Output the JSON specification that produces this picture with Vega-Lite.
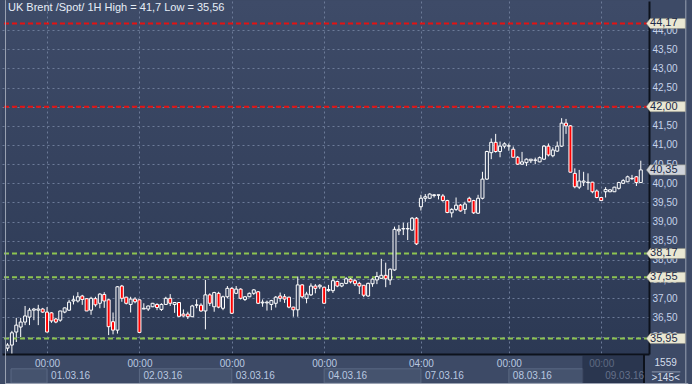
{
  "$schema": "https://vega.github.io/schema/vega-lite/v6.json",
  "width": 647,
  "height": 353,
  "autosize": {"type": "none"},
  "padding": {"left": 2, "top": 1, "right": 43, "bottom": 30},
  "background": "#3d4a66",
  "config": {
    "font": "Liberation Sans",
    "view": {"stroke": null, "fill": {"gradient": "linear", "x1": 0, "y1": 0, "x2": 0, "y2": 1, "stops": [{"offset": 0, "color": "#3e4b68"}, {"offset": 1, "color": "#2c3954"}]}}
  },
  "resolve": {"axis": {"x": "independent", "y": "independent"}},
  "datasets": {
    "candles": [
      {"i":0,"o":35.70,"h":35.83,"l":35.62,"c":35.78},
      {"i":1,"o":35.78,"h":36.15,"l":35.56,"c":36.10},
      {"i":2,"o":36.12,"h":36.49,"l":35.86,"c":36.30},
      {"i":3,"o":36.25,"h":36.49,"l":35.99,"c":36.38},
      {"i":4,"o":36.38,"h":36.80,"l":36.30,"c":36.54},
      {"i":5,"o":36.51,"h":36.75,"l":36.30,"c":36.69},
      {"i":6,"o":36.69,"h":36.75,"l":36.43,"c":36.72},
      {"i":7,"o":36.69,"h":36.83,"l":36.30,"c":36.72},
      {"i":8,"o":36.72,"h":36.75,"l":36.62,"c":36.64},
      {"i":9,"o":36.64,"h":36.77,"l":36.12,"c":36.12},
      {"i":10,"o":36.62,"h":36.64,"l":36.36,"c":36.41},
      {"i":11,"o":36.46,"h":36.49,"l":36.35,"c":36.38},
      {"i":12,"o":36.43,"h":36.67,"l":36.39,"c":36.67},
      {"i":13,"o":36.64,"h":36.76,"l":36.61,"c":36.75},
      {"i":14,"o":36.69,"h":36.96,"l":36.67,"c":36.90},
      {"i":15,"o":36.93,"h":37.07,"l":36.84,"c":36.96},
      {"i":16,"o":36.93,"h":37.16,"l":36.89,"c":37.04},
      {"i":17,"o":37.06,"h":37.09,"l":36.83,"c":36.97},
      {"i":18,"o":36.99,"h":37.00,"l":36.67,"c":36.67},
      {"i":19,"o":36.69,"h":37.04,"l":36.57,"c":37.00},
      {"i":20,"o":36.99,"h":37.04,"l":36.78,"c":36.83},
      {"i":21,"o":36.87,"h":37.13,"l":36.74,"c":37.11},
      {"i":22,"o":37.10,"h":37.16,"l":36.75,"c":36.93},
      {"i":23,"o":36.96,"h":36.98,"l":36.04,"c":36.26},
      {"i":24,"o":36.39,"h":36.63,"l":36.06,"c":36.17},
      {"i":25,"o":36.17,"h":37.32,"l":36.08,"c":37.30},
      {"i":26,"o":37.32,"h":37.35,"l":36.91,"c":37.00},
      {"i":27,"o":37.03,"h":37.04,"l":36.84,"c":36.87},
      {"i":28,"o":36.84,"h":37.04,"l":36.63,"c":36.98},
      {"i":29,"o":36.98,"h":37.03,"l":36.87,"c":36.91},
      {"i":30,"o":36.96,"h":36.97,"l":36.11,"c":36.11},
      {"i":31,"o":36.72,"h":36.87,"l":36.72,"c":36.74},
      {"i":32,"o":36.72,"h":36.81,"l":36.67,"c":36.80},
      {"i":33,"o":36.78,"h":36.88,"l":36.77,"c":36.87},
      {"i":34,"o":36.84,"h":36.87,"l":36.69,"c":36.76},
      {"i":35,"o":36.71,"h":36.87,"l":36.67,"c":36.84},
      {"i":36,"o":36.84,"h":37.04,"l":36.83,"c":37.00},
      {"i":37,"o":37.00,"h":37.11,"l":36.80,"c":36.87},
      {"i":38,"o":36.84,"h":36.90,"l":36.62,"c":36.89},
      {"i":39,"o":36.89,"h":36.89,"l":36.53,"c":36.53},
      {"i":40,"o":36.59,"h":36.71,"l":36.52,"c":36.54},
      {"i":41,"o":36.59,"h":36.65,"l":36.46,"c":36.52},
      {"i":42,"o":36.52,"h":36.83,"l":36.52,"c":36.80},
      {"i":43,"o":36.82,"h":36.97,"l":36.74,"c":36.83},
      {"i":44,"o":36.82,"h":36.87,"l":36.65,"c":36.67},
      {"i":45,"o":36.67,"h":37.48,"l":36.19,"c":37.09},
      {"i":46,"o":37.09,"h":37.13,"l":36.80,"c":36.87},
      {"i":47,"o":36.78,"h":37.17,"l":36.65,"c":37.15},
      {"i":48,"o":37.13,"h":37.17,"l":36.74,"c":36.77},
      {"i":49,"o":36.74,"h":37.07,"l":36.69,"c":37.04},
      {"i":50,"o":37.04,"h":37.32,"l":37.00,"c":37.26},
      {"i":51,"o":37.26,"h":37.29,"l":36.59,"c":36.61},
      {"i":52,"o":37.13,"h":37.32,"l":37.11,"c":37.24},
      {"i":53,"o":37.24,"h":37.26,"l":36.97,"c":37.00},
      {"i":54,"o":36.97,"h":37.06,"l":36.93,"c":37.04},
      {"i":55,"o":37.04,"h":37.15,"l":37.03,"c":37.13},
      {"i":56,"o":37.13,"h":37.24,"l":37.09,"c":37.22},
      {"i":57,"o":37.17,"h":37.19,"l":36.85,"c":36.87},
      {"i":58,"o":36.88,"h":36.97,"l":36.78,"c":36.90},
      {"i":59,"o":36.88,"h":36.94,"l":36.68,"c":36.90},
      {"i":60,"o":36.84,"h":36.96,"l":36.69,"c":36.94},
      {"i":61,"o":36.87,"h":37.06,"l":36.76,"c":37.03},
      {"i":62,"o":37.06,"h":37.15,"l":36.91,"c":37.00},
      {"i":63,"o":37.04,"h":37.11,"l":36.88,"c":36.98},
      {"i":64,"o":37.03,"h":37.04,"l":36.74,"c":36.77},
      {"i":65,"o":36.77,"h":36.78,"l":36.52,"c":36.70},
      {"i":66,"o":36.70,"h":37.57,"l":36.52,"c":37.35},
      {"i":67,"o":37.35,"h":37.37,"l":37.00,"c":37.04},
      {"i":68,"o":37.00,"h":37.17,"l":36.87,"c":37.11},
      {"i":69,"o":37.09,"h":37.39,"l":37.06,"c":37.32},
      {"i":70,"o":37.32,"h":37.37,"l":37.13,"c":37.26},
      {"i":71,"o":37.30,"h":37.37,"l":37.24,"c":37.34},
      {"i":72,"o":37.29,"h":37.30,"l":36.87,"c":36.87},
      {"i":73,"o":37.20,"h":37.35,"l":37.17,"c":37.23},
      {"i":74,"o":37.20,"h":37.53,"l":37.14,"c":37.46},
      {"i":75,"o":37.44,"h":37.46,"l":37.29,"c":37.32},
      {"i":76,"o":37.32,"h":37.40,"l":37.29,"c":37.39},
      {"i":77,"o":37.39,"h":37.55,"l":37.37,"c":37.51},
      {"i":78,"o":37.50,"h":37.55,"l":37.39,"c":37.43},
      {"i":79,"o":37.46,"h":37.51,"l":37.32,"c":37.38},
      {"i":80,"o":37.39,"h":37.43,"l":37.11,"c":37.32},
      {"i":81,"o":37.34,"h":37.34,"l":37.03,"c":37.08},
      {"i":82,"o":37.06,"h":37.41,"l":37.04,"c":37.39},
      {"i":83,"o":37.38,"h":37.55,"l":37.30,"c":37.50},
      {"i":84,"o":37.48,"h":37.69,"l":37.37,"c":37.57},
      {"i":85,"o":37.52,"h":38.03,"l":37.52,"c":37.60},
      {"i":86,"o":37.60,"h":37.93,"l":37.29,"c":37.51},
      {"i":87,"o":37.48,"h":37.78,"l":37.35,"c":37.76},
      {"i":88,"o":37.74,"h":38.87,"l":37.72,"c":38.80},
      {"i":89,"o":38.76,"h":38.91,"l":38.65,"c":38.80},
      {"i":90,"o":38.81,"h":38.97,"l":38.65,"c":38.82},
      {"i":91,"o":38.81,"h":38.97,"l":38.52,"c":38.82},
      {"i":92,"o":38.78,"h":39.12,"l":38.76,"c":39.09},
      {"i":93,"o":39.09,"h":39.12,"l":38.39,"c":38.42},
      {"i":94,"o":39.39,"h":39.70,"l":39.29,"c":39.61},
      {"i":95,"o":39.61,"h":39.72,"l":39.52,"c":39.65},
      {"i":96,"o":39.61,"h":39.74,"l":39.59,"c":39.72},
      {"i":97,"o":39.68,"h":39.72,"l":39.63,"c":39.70},
      {"i":98,"o":39.69,"h":39.70,"l":39.58,"c":39.70},
      {"i":99,"o":39.67,"h":39.72,"l":39.52,"c":39.55},
      {"i":100,"o":39.55,"h":39.57,"l":39.22,"c":39.24},
      {"i":101,"o":39.23,"h":39.35,"l":39.11,"c":39.32},
      {"i":102,"o":39.32,"h":39.63,"l":39.28,"c":39.43},
      {"i":103,"o":39.43,"h":39.46,"l":39.26,"c":39.28},
      {"i":104,"o":39.32,"h":39.52,"l":39.20,"c":39.46},
      {"i":105,"o":39.61,"h":39.65,"l":39.50,"c":39.52},
      {"i":106,"o":39.55,"h":39.57,"l":39.20,"c":39.23},
      {"i":107,"o":39.22,"h":39.70,"l":39.20,"c":39.61},
      {"i":108,"o":39.61,"h":40.30,"l":39.58,"c":40.11},
      {"i":109,"o":40.11,"h":40.85,"l":40.09,"c":40.83},
      {"i":110,"o":40.80,"h":41.17,"l":40.63,"c":41.07},
      {"i":111,"o":41.07,"h":41.29,"l":40.80,"c":40.83},
      {"i":112,"o":40.83,"h":41.09,"l":40.68,"c":40.97},
      {"i":113,"o":40.97,"h":41.07,"l":40.91,"c":41.03},
      {"i":114,"o":40.97,"h":41.04,"l":40.85,"c":40.98},
      {"i":115,"o":40.89,"h":40.96,"l":40.68,"c":40.68},
      {"i":116,"o":40.68,"h":40.71,"l":40.48,"c":40.50},
      {"i":117,"o":40.50,"h":40.82,"l":40.48,"c":40.56},
      {"i":118,"o":40.54,"h":40.65,"l":40.45,"c":40.63},
      {"i":119,"o":40.59,"h":40.63,"l":40.53,"c":40.63},
      {"i":120,"o":40.60,"h":40.67,"l":40.50,"c":40.61},
      {"i":121,"o":40.56,"h":40.70,"l":40.55,"c":40.67},
      {"i":122,"o":40.63,"h":41.00,"l":40.61,"c":40.97},
      {"i":123,"o":40.97,"h":41.04,"l":40.70,"c":40.74},
      {"i":124,"o":40.72,"h":40.94,"l":40.68,"c":40.87},
      {"i":125,"o":40.84,"h":41.09,"l":40.82,"c":40.97},
      {"i":126,"o":40.97,"h":41.70,"l":40.95,"c":41.57},
      {"i":127,"o":41.57,"h":41.68,"l":41.29,"c":41.50},
      {"i":128,"o":41.50,"h":41.52,"l":40.29,"c":40.29},
      {"i":129,"o":40.26,"h":40.39,"l":39.87,"c":39.91},
      {"i":130,"o":39.90,"h":40.35,"l":39.85,"c":40.06},
      {"i":131,"o":40.03,"h":40.30,"l":39.93,"c":40.06},
      {"i":132,"o":40.02,"h":40.26,"l":39.83,"c":40.03},
      {"i":133,"o":40.03,"h":40.04,"l":39.74,"c":39.78},
      {"i":134,"o":39.80,"h":39.84,"l":39.61,"c":39.63},
      {"i":135,"o":39.63,"h":39.63,"l":39.55,"c":39.55},
      {"i":136,"o":39.78,"h":39.90,"l":39.63,"c":39.84},
      {"i":137,"o":39.78,"h":39.84,"l":39.77,"c":39.83},
      {"i":138,"o":39.78,"h":39.91,"l":39.78,"c":39.90},
      {"i":139,"o":39.87,"h":40.04,"l":39.84,"c":40.02},
      {"i":140,"o":40.00,"h":40.11,"l":39.98,"c":40.07},
      {"i":141,"o":40.04,"h":40.20,"l":40.03,"c":40.17},
      {"i":142,"o":40.12,"h":40.22,"l":40.09,"c":40.13},
      {"i":143,"o":40.17,"h":40.19,"l":39.93,"c":40.02},
      {"i":144,"o":40.02,"h":40.59,"l":40.02,"c":40.35}
    ],
    "levels": [
      {"v": 44.17, "kind": "res", "label": "44,17"},
      {"v": 42.00, "kind": "res", "label": "42,00"},
      {"v": 40.35, "kind": "price", "label": "40,35"},
      {"v": 38.17, "kind": "sup", "label": "38,17"},
      {"v": 37.55, "kind": "sup", "label": "37,55"},
      {"v": 35.95, "kind": "sup", "label": "35,95"}
    ],
    "days": [
      {"i": 9, "time": "00:00", "date": "01.03.16", "dim": false},
      {"i": 30, "time": "00:00", "date": "02.03.16", "dim": false},
      {"i": 51, "time": "00:00", "date": "03.03.16", "dim": false},
      {"i": 72, "time": "00:00", "date": "04.03.16", "dim": false},
      {"i": 94, "time": "04:00", "date": "07.03.16", "dim": false},
      {"i": 114, "time": "00:00", "date": "08.03.16", "dim": false},
      {"i": 135, "time": "00:00", "date": "09.03.16", "dim": true}
    ],
    "boxes": [
      {"a": 0.8, "b": 9},
      {"a": 30, "b": 51},
      {"a": 72, "b": 94},
      {"a": 114, "b": 130.85}
    ]
  },
  "layer": [
    {
      "data": {"name": "candles"},
      "mark": {"type": "rule", "color": "#ffffff", "strokeWidth": 1},
      "encoding": {
        "x": {
          "field": "i", "type": "quantitative",
          "scale": {"domain": [-0.112, 144.73], "nice": false, "zero": false},
          "axis": {
            "orient": "bottom", "values": [9, 30, 51, 72, 94, 114, 135],
            "grid": true, "gridDash": [2, 3], "gridColor": "#6c7b98", "gridWidth": 1,
            "ticks": false, "domain": true, "domainColor": "#0d121c", "domainWidth": 2,
            "labelExpr": "datum.value == 94 ? '04:00' : '00:00'",
            "labelColor": "#b9c8e0",
            "labelFontSize": 10, "labelPadding": 4, "labelFlush": false, "labelOverlap": false,
            "title": null
          }
        },
        "y": {
          "field": "l", "type": "quantitative",
          "scale": {"domain": [35.547, 44.757], "nice": false, "zero": false},
          "axis": {
            "orient": "right",
            "values": [36, 36.5, 37, 37.5, 38, 38.5, 39, 39.5, 40, 40.5, 41, 41.5, 42, 42.5, 43, 43.5, 44],
            "grid": true, "gridDash": [2, 3], "gridColor": "#6c7b98", "gridWidth": 1,
            "ticks": false, "domain": true, "domainColor": "#0d121c", "domainWidth": 2,
            "labelExpr": "replace(format(datum.value, '.2f'), '.', ',')",
            "labelColor": "#c6d3ea", "labelFontSize": 10, "labelPadding": 3,
            "labelFlush": false, "labelOverlap": false, "title": null
          }
        },
        "y2": {"field": "h"}
      }
    },
    {
      "data": {"name": "boxes"},
      "mark": {"type": "rect", "fill": "#45536e", "stroke": "#5a6883", "strokeWidth": 1},
      "encoding": {
        "x": {"field": "a", "type": "quantitative", "axis": null},
        "x2": {"field": "b"},
        "y": {"datum": 35.16, "axis": null},
        "y2": {"datum": 34.79}
      }
    },
    {
      "data": {"values": [{"a": 130.85, "b": 144.73}]},
      "mark": {"type": "rect", "fill": "#1f2940", "opacity": 0.6, "stroke": "#1f2940", "strokeWidth": 1},
      "encoding": {
        "x": {"field": "a", "type": "quantitative", "axis": null},
        "x2": {"field": "b"},
        "y": {"datum": 35.49, "axis": null},
        "y2": {"datum": 34.79}
      }
    },
    {
      "data": {"name": "levels"},
      "transform": [{"filter": "datum.kind != 'price'"}],
      "mark": {"type": "rule", "strokeWidth": 2, "strokeDash": [5, 3]},
      "encoding": {
        "y": {"field": "v", "type": "quantitative", "axis": null},
        "color": {"condition": {"test": "datum.kind == 'res'", "value": "#e41212"}, "value": "#8dc451"}
      }
    },
    {
      "data": {"name": "candles"},
      "mark": {"type": "bar", "width": 3, "stroke": "#ffffff", "strokeWidth": 1},
      "encoding": {
        "x": {"field": "i", "type": "quantitative", "axis": null},
        "y": {"field": "o", "type": "quantitative", "axis": null},
        "y2": {"field": "c"},
        "fill": {"condition": {"test": "datum.c < datum.o", "value": "#ff0000"}, "value": "#34415d"}
      }
    },
    {
      "data": {"values": [{"x": 144.73}]},
      "mark": {"type": "rule", "color": "#0d121c", "strokeWidth": 2},
      "encoding": {
        "x": {"field": "x", "type": "quantitative", "axis": null},
        "y": {"datum": 35.547, "axis": null},
        "y2": {"datum": 34.79}
      }
    },
    {
      "data": {"values": [{"x": -0.448, "x2": -0.448, "y": 44.78, "y2": 34.77}, {"x": 154.24, "x2": 154.24, "y": 44.78, "y2": 34.77}, {"x": -0.56, "x2": 154.8, "y": 34.777, "y2": 34.777}]},
      "mark": {"type": "rule", "color": "#9aa2b2", "strokeWidth": 1},
      "encoding": {
        "x": {"field": "x", "type": "quantitative", "axis": null},
        "x2": {"field": "x2"},
        "y": {"field": "y", "type": "quantitative", "axis": null},
        "y2": {"field": "y2"}
      }
    },
    {
      "data": {"name": "levels"},
      "mark": {"type": "point", "filled": true, "opacity": 1, "size": 1521, "shape": "M-1,0L-0.8,-0.26L1,-0.26L1,0.26L-0.8,0.26Z", "stroke": "#8d8c7e", "strokeWidth": 0.5},
      "encoding": {
        "x": {"datum": 149.7, "axis": null},
        "y": {"field": "v", "type": "quantitative", "axis": null},
        "fill": {"condition": {"test": "datum.kind == 'price'", "value": "#cfd3da"}, "value": "#e9e7d3"}
      }
    },
    {
      "data": {"name": "levels"},
      "mark": {"type": "text", "align": "left", "baseline": "middle", "fontSize": 11, "color": "#1d2b47"},
      "encoding": {
        "x": {"datum": 146.1, "axis": null},
        "y": {"field": "v", "type": "quantitative", "axis": null},
        "text": {"field": "label"}
      }
    },
    {
      "data": {"values": [{"t": "UK Brent /Spot/  1H High = 41,7 Low = 35,56"}]},
      "mark": {"type": "text", "align": "left", "baseline": "middle", "fontSize": 11, "color": "#e6edf7", "dx": 1},
      "encoding": {
        "x": {"datum": -0.112, "axis": null},
        "y": {"datum": 44.574, "axis": null},
        "text": {"field": "t"}
      }
    },
    {
      "data": {"name": "days"},
      "mark": {"type": "text", "align": "left", "baseline": "middle", "fontSize": 10, "dx": 4},
      "encoding": {
        "x": {"field": "i", "type": "quantitative", "axis": null},
        "y": {"datum": 34.98, "axis": null},
        "text": {"field": "date"},
        "color": {"condition": {"test": "datum.dim", "value": "#65718a"}, "value": "#b9c8e0"}
      }
    },
    {
      "data": {"values": [{"x": 146.5, "x2": 153.0}]},
      "mark": {"type": "rule", "color": "#8e9ab0", "strokeWidth": 1},
      "encoding": {
        "x": {"field": "x", "type": "quantitative", "axis": null},
        "x2": {"field": "x2"},
        "y": {"datum": 35.08, "axis": null}
      }
    },
    {
      "data": {"values": [{"t": "1559", "v": 35.30}, {"t": ">145<", "v": 34.93}]},
      "mark": {"type": "text", "align": "center", "baseline": "middle", "fontSize": 10, "color": "#d5deec"},
      "encoding": {
        "x": {"datum": 149.65, "axis": null},
        "y": {"field": "v", "type": "quantitative", "axis": null},
        "text": {"field": "t"}
      }
    }
  ]
}
